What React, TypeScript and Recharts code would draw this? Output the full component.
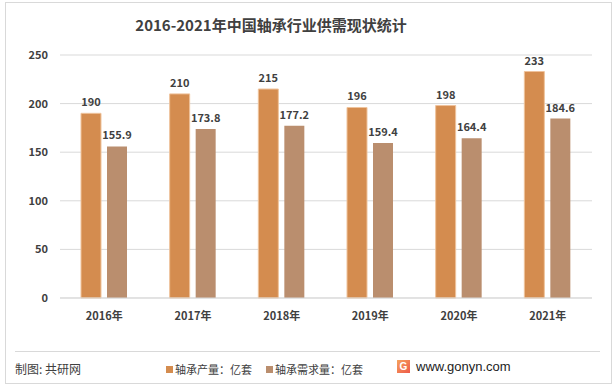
import * as React from "react"
import { Bar, BarChart, CartesianGrid, LabelList, Legend, XAxis, YAxis } from "recharts"

const years = ["2016年", "2017年", "2018年", "2019年", "2020年", "2021年"]
const output = [190, 210, 215, 196, 198, 233]
const demand = [155.9, 173.8, 177.2, 159.4, 164.4, 184.6]
const yTicks = [0, 50, 100, 150, 200, 250]

const outputName = "轴承产量：亿套"
const demandName = "轴承需求量：亿套"

const data = years.map((year, i) => ({ year, output: output[i], demand: demand[i] }))

const font = "'Microsoft YaHei', 'Noto Sans CJK SC', sans-serif"
const textColor = "#404040"
const orange = "#D48C4F"
const brown = "#BA8E6E"

function FooterLegend() {
  const items = [
    { name: outputName, color: orange },
    { name: demandName, color: brown },
  ]
  return (
    <div style={{ display: "flex", gap: 14, fontFamily: font, fontSize: 11, color: textColor }}>
      {items.map((it) => (
        <div key={it.name} style={{ display: "flex", alignItems: "center" }}>
          <span style={{ width: 7, height: 7, background: it.color, marginRight: 2, display: "inline-block" }} />
          {it.name}
        </div>
      ))}
    </div>
  )
}

export default function App() {
  return (
    <div style={{ position: "absolute", left: 0, top: 0, width: 616, height: 388, background: "#fff", fontFamily: font }}>
      <div
        style={{
          position: "absolute",
          left: 5,
          top: 2,
          width: 605,
          height: 380,
          border: "1px solid #d9d9d9",
        }}
      />
      <div
        style={{
          position: "absolute",
          top: 14,
          left: 0,
          width: 542,
          textAlign: "center",
          fontSize: 15,
          fontWeight: "bold",
          color: textColor,
        }}
      >
        2016-2021年中国轴承行业供需现状统计
      </div>
      <div style={{ position: "absolute", left: 0, top: 0 }}>
        <BarChart
          width={616}
          height={388}
          data={data}
          margin={{ top: 55, right: 24, left: 0, bottom: 60 }}
          barSize={20}
          barGap={6}
        >
          <CartesianGrid vertical={false} stroke="#d9d9d9" />
          <XAxis
            dataKey="year"
            height={30}
            tickLine={false}
            axisLine={{ stroke: "#d9d9d9" }}
            tickMargin={8}
            tick={{ fill: textColor, fontSize: 11, fontWeight: "bold", fontFamily: font }}
          />
          <YAxis
            width={60}
            domain={[0, 250]}
            ticks={yTicks}
            tickLine={false}
            axisLine={false}
            tickMargin={6}
            tick={{ fill: textColor, fontSize: 11, fontWeight: "bold", fontFamily: font }}
          />
          <Legend
            layout="horizontal"
            verticalAlign="middle"
            content={() => <FooterLegend />}
            wrapperStyle={{ top: 361, left: 166, width: "auto" }}
          />
          <Bar dataKey="output" name={outputName} fill={orange} stroke="#EFC39C" strokeWidth={1} isAnimationActive={false}>
            <LabelList dataKey="output" position="top" offset={7} fill={textColor} fontSize={11} fontWeight="bold" fontFamily={font} />
          </Bar>
          <Bar dataKey="demand" name={demandName} fill={brown} isAnimationActive={false}>
            <LabelList dataKey="demand" position="top" offset={7} fill={textColor} fontSize={11} fontWeight="bold" fontFamily={font} />
          </Bar>
        </BarChart>
      </div>
      <div style={{ position: "absolute", left: 15, top: 351, width: 585, borderTop: "1px solid #d9d9d9" }} />
      <div style={{ position: "absolute", left: 15, top: 360, fontSize: 12, color: textColor }}>制图: 共研网</div>
      <div style={{ position: "absolute", left: 397, top: 359, display: "flex", alignItems: "center", fontSize: 13, color: "#222" }}>
        <span
          style={{
            width: 13,
            height: 13,
            background: "linear-gradient(135deg, #F5A25D, #EE5A4A)",
            color: "#fff",
            fontSize: 10,
            fontWeight: "bold",
            display: "inline-flex",
            alignItems: "center",
            justifyContent: "center",
            marginRight: 6,
            fontFamily: "Arial, sans-serif",
          }}
        >
          G
        </span>
        <span style={{ fontFamily: "'Liberation Sans', Arial, sans-serif" }}>www.gonyn.com</span>
      </div>
    </div>
  )
}
